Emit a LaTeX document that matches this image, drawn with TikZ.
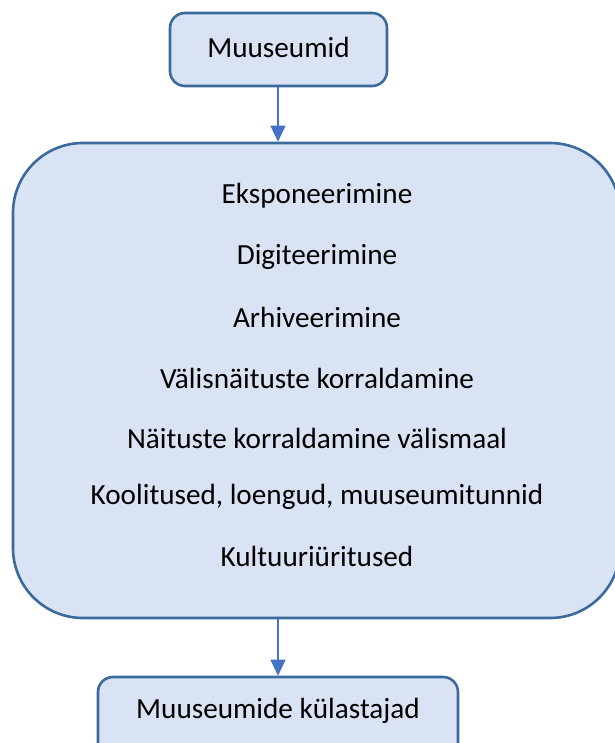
\documentclass[tikz,border=0pt]{standalone}
\usepackage{fontspec}
\setmainfont{Carlito}
\usetikzlibrary{arrows.meta}
\definecolor{boxfill}{HTML}{DAE3F3}
\definecolor{boxline}{HTML}{3A6A9E}
\definecolor{arrowc}{HTML}{4472C4}
\begin{document}
\begin{tikzpicture}[x=1pt,y=-1pt,
  box/.style={draw=boxline, fill=boxfill, line width=2.6pt, rounded corners=15pt, inner sep=0pt},
  bigbox/.style={draw=boxline, fill=boxfill, line width=2.6pt, rounded corners=70pt, inner sep=0pt},
  txt/.style={font=\fontsize{29.2}{34}\selectfont, inner sep=0pt, anchor=center},
  conn/.style={draw=arrowc, line width=1.3pt, -{Triangle[width=15pt,length=16pt]}}]
\useasboundingbox (0,0) rectangle (614,743);
\node[box, minimum width=217pt, minimum height=73pt] (top) at (278.5,49.5) {};
\node[txt] (toptxt) at (278.5,47.5) {Muuseumid};
\node[bigbox, minimum width=607pt, minimum height=475pt] (big) at (316.5,380.5) {};
\node[txt] (l1) at (317,196) {Eksponeerimine};
\node[txt] (l2) at (317,257) {Digiteerimine};
\node[txt] (l3) at (317,317) {Arhiveerimine};
\node[txt] (l4) at (317,378) {Välisnäituste korraldamine};
\node[txt] (l5) at (317,438) {Näituste korraldamine välismaal};
\node[txt] (l6) at (317,497) {Koolitused, loengud, muuseumitunnid};
\node[txt] (l7) at (317,556) {Kultuuriüritused};
\node[box, minimum width=360pt, minimum height=90pt] (bot) at (278,722) {};
\node[txt] (bottxt) at (278,711) {Muuseumide külastajad};
\draw[conn] (top.south -| 278,0) -- (big.north -| 278,0);
\draw[conn] (big.south -| 278,0) -- (bot.north -| 278,0);
\end{tikzpicture}
\end{document}
